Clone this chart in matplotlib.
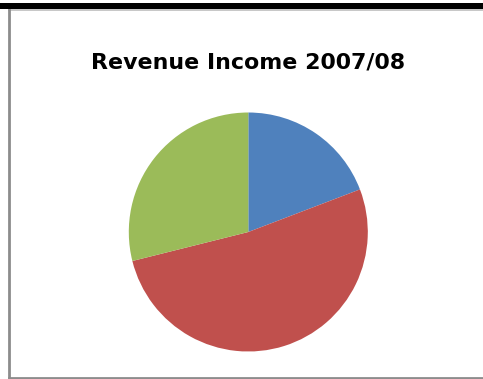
import matplotlib
matplotlib.use("Agg")
import matplotlib.pyplot as plt
from matplotlib.patches import Rectangle
from matplotlib.lines import Line2D

# Revenue income shares for 2007/08 (percent)
categories = ["Council Tax", "Government Grants", "Fees and Other Income"]
shares = [19.2, 51.9, 28.9]
colors = ["#4F81BD", "#C0504D", "#9BBB59"]
title = "Revenue Income 2007/08"

W, H = 483, 379
fig = plt.figure(figsize=(W / 100, H / 100), dpi=100)
fig.patch.set_facecolor("white")


def fx(px):
    return px / W


def fy(py):
    return 1 - py / H


# Pie, drawn clockwise from twelve o'clock
cx, cy, r = 248.3, 232.0, 119.5
ax = fig.add_axes([fx(cx - r), fy(cy + r), 2 * r / W, 2 * r / H])
ax.pie(shares, colors=colors, startangle=90, counterclock=False,
       radius=1.0, wedgeprops=dict(linewidth=0, antialiased=True))
ax.set_xlim(-1, 1)
ax.set_ylim(-1, 1)
ax.set_aspect("auto")
ax.axis("off")

# Chart title
fig.text(fx(248.5), fy(69), title, ha="center", va="baseline",
         fontsize=15.9, fontweight="bold", family="DejaVu Sans", color="#000000")

# Black band across the top and the grey chart-area border
fig.add_artist(Rectangle((0, fy(8.5)), 1, fy(3) - fy(8.5), transform=fig.transFigure,
                         facecolor="black", edgecolor="none"))
grey = "#8c8c8c"
fig.add_artist(Line2D([fx(8.5), 1], [fy(9.5), fy(9.5)], transform=fig.transFigure,
                      color="#bdbdbd", linewidth=1.2))
fig.add_artist(Line2D([fx(8.5), fx(8.5)], [fy(9.5), fy(377.5)], transform=fig.transFigure,
                      color=grey, linewidth=2.0))
fig.add_artist(Line2D([fx(8.5), 1], [fy(377.5), fy(377.5)], transform=fig.transFigure,
                      color=grey, linewidth=2.0))

fig.savefig("out.png", dpi=100, facecolor="white")
